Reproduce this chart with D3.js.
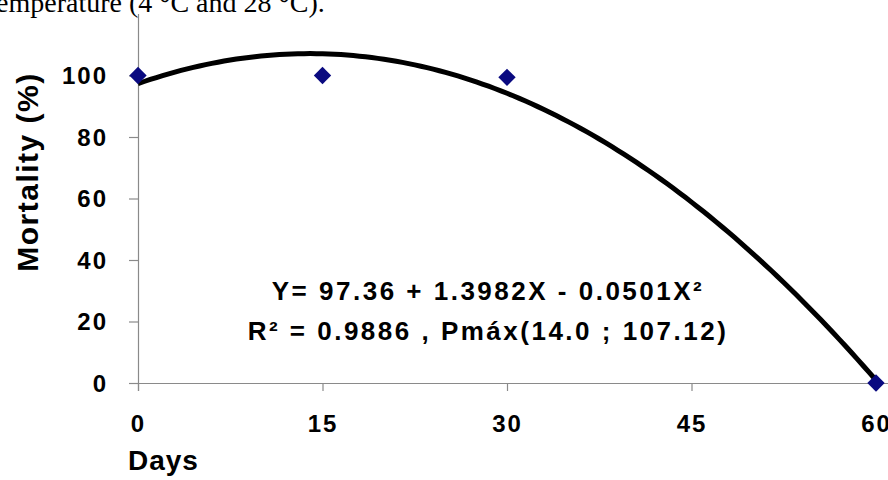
<!DOCTYPE html>
<html>
<head>
<meta charset="utf-8">
<script src="https://cdn.jsdelivr.net/npm/d3@7"></script>
<style>
  body { margin: 0; background: #fff; }
  svg { display: block; }
  .tick text { font-family: Arial, "Liberation Sans", sans-serif; font-weight: bold; }
</style>
</head>
<body>
<div id="chart"></div>
<script>
const WIDTH = 888;
const HEIGHT = 480;

const days = [0, 15, 30, 60];
const mortality = [100, 100, 99.4, 0];
const xTicks = [0, 15, 30, 45, 60];
const yTicks = [0, 20, 40, 60, 80, 100];
// fitted curve coefficients as printed on the chart: Y = a + bX + cX²
const fitCoef = [97.36, 1.3982, -0.0501];
const eqLines = ['Y= 97.36 + 1.3982X - 0.0501X²', 'R² = 0.9886 , Pmáx(14.0 ; 107.12)'];

const xScale = d3.scaleLinear().domain([0, 60]).range([138, 876]);
const yScale = d3.scaleLinear().domain([0, 120]).range([383, 14]);

const svg = d3.select('#chart').append('svg')
  .attr('width', WIDTH)
  .attr('height', HEIGHT);

// caption text cut off from the page above
svg.append('text')
  .attr('x', -4)
  .attr('y', 12)
  .style('font-family', '"Liberation Serif", "Times New Roman", serif')
  .style('font-size', '28px')
  .text('emperature (4 °C and 28 °C).');

const xAxis = d3.axisBottom(xScale)
  .tickValues(xTicks)
  .tickSize(8)
  .tickPadding(24)
  .tickSizeOuter(0);

const yAxis = d3.axisLeft(yScale)
  .tickValues(yTicks)
  .tickSize(9)
  .tickPadding(21)
  .tickSizeOuter(0);

const gx = svg.append('g')
  .attr('transform', `translate(0, ${yScale(0)})`)
  .call(xAxis);

const gy = svg.append('g')
  .attr('transform', `translate(${xScale(0)}, 0)`)
  .call(yAxis);

[gx, gy].forEach((g) => {
  g.selectAll('path, line').attr('stroke', '#8a8a8a').attr('stroke-width', 1.2);
  g.selectAll('text')
    .attr('fill', '#000')
    .style('font-size', '24px')
    .style('letter-spacing', '2px');
});
gx.select('.domain').attr('d', `M${xScale(0) - 9},0.5H${WIDTH}`);
gy.select('.domain').attr('d', `M0.5,${yScale(120)}V${yScale(0) + 8}`);
gy.selectAll('text').attr('dy', '0.35em');

svg.append('text')
  .attr('x', 128)
  .attr('y', 470)
  .style('font-family', 'Arial, "Liberation Sans", sans-serif')
  .style('font-weight', 'bold')
  .style('font-size', '28px')
  .style('letter-spacing', '1px')
  .text('Days');

svg.append('text')
  .attr('transform', `translate(38, 172) rotate(-90)`)
  .attr('text-anchor', 'middle')
  .style('font-family', 'Arial, "Liberation Sans", sans-serif')
  .style('font-weight', 'bold')
  .style('font-size', '30px')
  .style('letter-spacing', '1.5px')
  .text('Mortality (%)');

// fitted curve from the printed equation
const curveX = d3.range(0, 60.01, 0.5);
const line = d3.line()
  .x((d) => xScale(d))
  .y((d) => yScale(fitCoef[0] + fitCoef[1] * d + fitCoef[2] * d * d));

svg.append('path')
  .datum(curveX)
  .attr('d', line)
  .attr('fill', 'none')
  .attr('stroke', '#000')
  .attr('stroke-width', 5);

svg.selectAll('.pt')
  .data(days)
  .enter()
  .append('path')
  .attr('class', 'pt')
  .attr('d', d3.symbol(d3.symbolSquare, 150)())
  .attr('transform', (d, i) => `translate(${xScale(d)}, ${yScale(mortality[i])}) rotate(45)`)
  .attr('fill', '#0a0a80');

svg.append('g')
  .selectAll('text')
  .data(eqLines)
  .enter()
  .append('text')
  .attr('x', 488)
  .attr('y', (d, i) => 300 + i * 40)
  .attr('text-anchor', 'middle')
  .style('font-family', 'Arial, "Liberation Sans", sans-serif')
  .style('font-weight', 'bold')
  .style('font-size', '26px')
  .style('letter-spacing', '2.5px')
  .text((d) => d);
</script>
</body>
</html>
